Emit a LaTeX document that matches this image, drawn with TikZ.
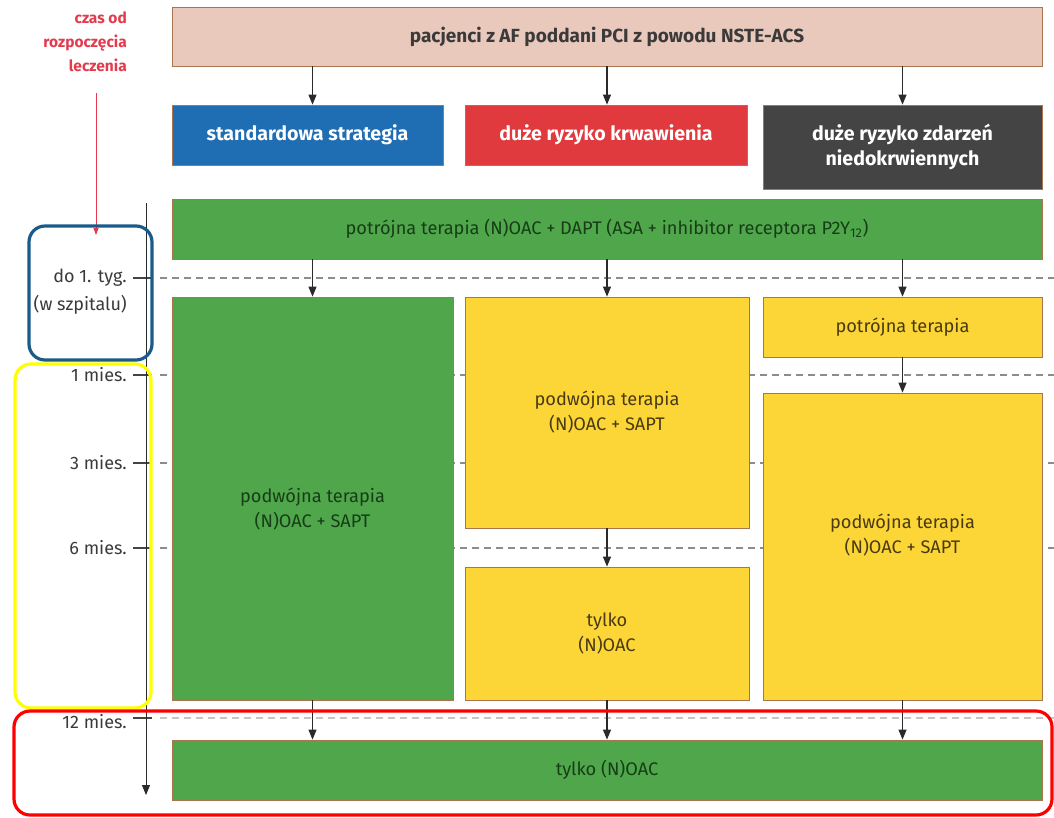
\documentclass[tikz,border=0pt]{standalone}
\usepackage{fontspec}
\setmainfont{Fira Sans}
\usetikzlibrary{arrows.meta,calc}
\definecolor{gr}{HTML}{4FA64B}
\definecolor{yl}{HTML}{FCD637}
\definecolor{bl}{HTML}{1F6DB3}
\definecolor{rd}{HTML}{E03A3E}
\definecolor{dg}{HTML}{444444}
\definecolor{ar}{HTML}{2A2A2A}
\definecolor{pk}{HTML}{EAC9BD}
\definecolor{bd}{HTML}{A8754F}
\definecolor{gtxt}{HTML}{173D17}
\definecolor{ytxt}{HTML}{4A3A12}
\definecolor{lbl}{HTML}{3A3A3A}
\definecolor{redlbl}{HTML}{E23B4E}
\definecolor{hlblue}{HTML}{1A5B8A}
\definecolor{hlyel}{HTML}{FFFF00}
\definecolor{hlred}{HTML}{FF0000}
\begin{document}
\begin{tikzpicture}[x=1pt,y=-1pt,
  box/.style={draw=bd, line width=0.8pt, inner sep=0pt, align=center},
  gbox/.style={box, fill=gr, text=gtxt, font=\fontsize{18.2}{25}\selectfont},
  ybox/.style={box, fill=yl, text=ytxt, font=\fontsize{18.2}{25}\selectfont},
  hbox/.style={box, text=white, font=\bfseries\fontsize{19.6}{25}\selectfont},
  arr/.style={draw=ar, line width=1.1pt, -{Triangle[length=10pt,width=8pt]}},
  gridline/.style={draw=gray!90, line width=1.4pt, dash pattern=on 7pt off 5pt},
  tickline/.style={draw=dg, line width=1.1pt},
  tlabel/.style={text=lbl, anchor=east, align=right, inner sep=0pt, font=\fontsize{18}{28}\selectfont},
  hl/.style={line width=3.2pt, rounded corners=16pt}]
\useasboundingbox (0,0) rectangle (1054,817);
% time grid lines (behind boxes)
\foreach \yy in {278,375,463,548}{
  \draw[tickline] (133,\yy) -- (152,\yy);
  \draw[gridline] (160,\yy) -- (1054,\yy);
}
\draw[tickline] (133,718) -- (152,718);
\draw[gridline, draw=gray!45] (160,718) -- (1054,718);
% time labels
\node[tlabel] (t0) at (127,292) {do 1. tyg.\\(w szpitalu)};
\node[tlabel] (t1) at (127,375) {1 mies.};
\node[tlabel] (t3) at (127,463) {3 mies.};
\node[tlabel] (t6) at (127,548) {6 mies.};
\node[tlabel] (t12) at (127,722) {12 mies.};
\node[text=redlbl, anchor=east, align=right, inner sep=0pt, font=\bfseries\fontsize{15.5}{24}\selectfont] (czas) at (127,42) {czas od\\rozpoczęcia\\leczenia};
\coordinate (r0) at (96,93);
\coordinate (r1) at (96,235);
\draw[draw=redlbl, line width=0.8pt, -{Triangle[length=7pt,width=5pt]}] (r0) -- (r1);
% time axis
\coordinate (ax0) at (146,203);
\coordinate (ax1) at (146,795);
\draw[arr, line width=1pt] (ax0) -- (ax1);
% boxes
\node[box, fill=pk, text=lbl, font=\bfseries\fontsize{19}{20}\selectfont, minimum width=870, minimum height=59] (title) at (607,36.5) {pacjenci z AF poddani PCI z powodu NSTE-ACS};
\node[hbox, fill=bl, minimum width=271, minimum height=60] (std) at (307.5,135) {standardowa strategia};
\node[hbox, fill=rd, minimum width=282, minimum height=60] (bleed) at (606,135) {duże ryzyko krwawienia};
\node[hbox, fill=dg, minimum width=279, minimum height=84] (isch) at (902.5,147) {duże ryzyko zdarzeń\\niedokrwiennych};
\node[gbox, minimum width=870, minimum height=60] (triple) at (607,229) {potrójna terapia (N)OAC + DAPT (ASA + inhibitor receptora P2Y\textsubscript{12})};
\node[gbox, minimum width=281, minimum height=403, label={[gbox, draw=none, fill=none, yshift=-11pt]center:podwójna terapia\\(N)OAC + SAPT}] (c1) at (312.5,498.5) {};
\node[ybox, minimum width=284, minimum height=231] (c2a) at (607,412.5) {podwójna terapia\\(N)OAC + SAPT};
\node[ybox, minimum width=284, minimum height=133] (c2b) at (607,633.5) {tylko\\(N)OAC};
\node[ybox, minimum width=279, minimum height=60] (c3a) at (902.5,327) {potrójna terapia};
\node[ybox, minimum width=279, minimum height=307, label={[ybox, draw=none, fill=none, yshift=11pt]center:podwójna terapia\\(N)OAC + SAPT}] (c3b) at (902.5,546.5) {};
\node[gbox, minimum width=870, minimum height=60] (final) at (607,770) {tylko (N)OAC};
% arrows
\draw[arr] (title.south -| c1) -- (std.north -| c1);
\draw[arr] (title.south -| c2a) -- (bleed.north -| c2a);
\draw[arr] (title.south -| c3a) -- (isch.north -| c3a);
\draw[arr] (triple.south -| c1) -- (c1.north);
\draw[arr] (triple.south -| c2a) -- (c2a.north);
\draw[arr] (triple.south -| c3a) -- (c3a.north);
\draw[arr] (c2a.south) -- (c2b.north);
\draw[arr] (c3a.south) -- (c3b.north);
\draw[arr] (c1.south) -- (final.north -| c1);
\draw[arr] (c2b.south) -- (final.north -| c2b);
\draw[arr] (c3b.south) -- (final.north -| c3b);
% highlight frames
\draw[hl, draw=hlblue] (29,226) rectangle (152,360);
\draw[hl, draw=hlyel] (15,364) rectangle (151,708);
\draw[hl, draw=hlred] (14,711) rectangle (1052,815);
\end{tikzpicture}
\end{document}
